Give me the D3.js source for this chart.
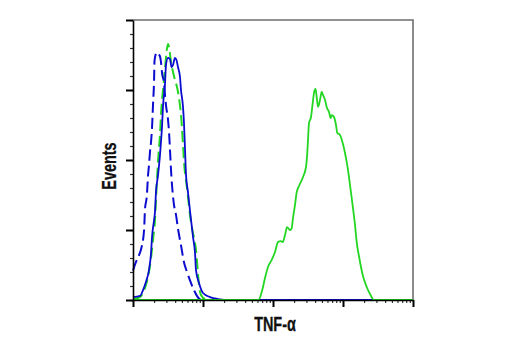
<!DOCTYPE html>
<html>
<head>
<meta charset="utf-8">
<script src="https://cdn.jsdelivr.net/npm/d3@7"></script>
<style>
  html, body { margin: 0; padding: 0; background: #fff; }
  svg { display: block; }
  .label { font-family: "Liberation Sans", Arial, sans-serif; font-weight: bold; font-size: 19.5px; fill: #111; stroke: #111; stroke-width: 0.3px; }
</style>
</head>
<body>
<svg id="chart" width="520" height="350"></svg>
<script>
// Fluorescence intensity (log channel) vs event counts, one array per histogram.
const xLabel = "TNF-α";
const yLabel = "Events";

// Isotype control, untreated (blue dashed)
const isoUntreated = [
  [1, 21], [1.1, 27], [1.22, 32], [1.3, 36], [1.44, 50], [1.48, 64], [1.58, 75],
  [1.64, 89], [1.69, 96], [1.75, 106], [1.81, 113], [1.87, 123], [1.93, 139],
  [2.0, 157], [2.03, 171], [2.13, 176], [2.2, 177], [2.28, 176], [2.43, 174],
  [2.51, 170], [2.6, 162], [2.77, 155], [2.87, 146], [2.96, 139], [3.16, 129],
  [3.27, 120], [3.38, 107], [3.49, 93], [3.61, 82], [3.85, 68], [4.11, 61],
  [4.39, 51], [4.85, 39], [5.35, 27], [5.91, 20], [6.52, 14], [7.44, 7],
  [8.77, 1], [10, 0]
];

// Isotype control, treated (green dashed)
const isoTreated = [
  [1, 0.7], [1.26, 2.1], [1.39, 5], [1.53, 10.7], [1.69, 20], [1.81, 30],
  [1.93, 42.9], [2.06, 57.1], [2.13, 71.4], [2.2, 85.7], [2.31, 103.6],
  [2.43, 117.9], [2.51, 132.1], [2.6, 142.9], [2.73, 153.6], [2.87, 165.7],
  [3.01, 177.1], [3.16, 182.9], [3.32, 178.6], [3.49, 170], [3.73, 162.9],
  [3.98, 157.1], [4.25, 152.1], [4.54, 144.3], [4.77, 135.7], [5.01, 122.9],
  [5.18, 110.7], [5.44, 94.3], [5.72, 85.7], [6.1, 73.6], [6.52, 60.7],
  [6.96, 51.4], [7.44, 44.3], [7.94, 35.7], [8.35, 22.9], [8.77, 10.7],
  [9.36, 3.6], [10.7, 0.7], [13.4, 0]
];

// TNF-α antibody, untreated (blue solid)
const tnfUntreated = [
  [1, 2.1], [1.26, 2.9], [1.39, 7.1], [1.53, 12.9], [1.69, 21.4], [1.81, 33.6],
  [1.87, 45], [2.0, 57.1], [2.06, 62.9], [2.13, 77.1], [2.28, 89.3], [2.43, 103.6],
  [2.51, 112.9], [2.6, 124.3], [2.68, 137.9], [2.87, 155], [2.96, 167.9],
  [3.16, 172.9], [3.38, 172.1], [3.55, 166.4], [3.73, 167.9], [3.98, 172.9],
  [4.18, 171.4], [4.39, 166.4], [4.69, 159.3], [4.85, 150], [5.18, 137.9],
  [5.35, 126.4], [5.54, 107.1], [5.72, 89.3], [6.1, 77.1], [6.52, 63.6],
  [7.2, 45], [7.69, 33.6], [7.94, 21.4], [8.77, 12.1], [10, 5], [12.6, 2.1],
  [16.4, 0.7], [24.3, 0], [10000, 0]
];

// TNF-α antibody, treated (green solid)
const tnfTreated = [
  [1, 0], [62.1, 0], [69, 5.7], [76.9, 15.7], [84.8, 23.6], [95.8, 28.6],
  [106.8, 34.3], [117.9, 41.4], [128.8, 42.1], [137.6, 41.4], [148.4, 46.4],
  [158.5, 52.1], [175, 50], [185, 51.4], [193.1, 58.6], [206.2, 67.9],
  [218.1, 77.1], [235.2, 81.4], [268.3, 87.9], [296, 95], [305.9, 102.1],
  [316.2, 114.3], [326.8, 126.4], [349.1, 130.7], [369.2, 140.7], [385.3, 147.9],
  [404.8, 150.7], [421.1, 145], [439.5, 137.9], [469.4, 142.9], [496.3, 148.6],
  [518, 146.4], [553.3, 142.9], [590.9, 137.1], [631, 134.3], [667.3, 130],
  [689.6, 132.1], [743.6, 130.7], [794.3, 125], [829, 119.3], [906, 117.9],
  [990.1, 112.1], [1068, 105], [1129, 98.6], [1190, 91.4], [1259, 82.1],
  [1331, 72.9], [1484, 53.6], [1569, 41.4], [1710, 30], [1912, 17.9],
  [2181, 9.3], [2431, 4.3], [2774, 0], [10000, 0]
];

const yMajorTicks = [0, 50, 100, 150, 200];

const svg = d3.select("#chart");
const plotLeft = 133, plotRight = 413, plotTop = 20, plotBottom = 300;

const x = d3.scaleLog().domain([1, 10000]).range([plotLeft, plotRight]);
const y = d3.scaleLinear().domain([0, 200]).range([plotBottom, plotTop]);

// Plot frame: grey top and right edges
svg.append("path")
  .attr("d", `M${plotLeft},${plotTop}H${plotRight}V${plotBottom}`)
  .attr("fill", "none")
  .attr("stroke", "#6e6e6e")
  .attr("stroke-width", 1.6);

// Histograms
const line = d3.line()
  .x(d => x(d[0]))
  .y(d => y(d[1]))
  .curve(d3.curveMonotoneX);

const series = [
  { data: isoTreated,   color: "#22d622", dash: "11,5", width: 2 },
  { data: isoUntreated, color: "#0c0cd0", dash: "11,5", width: 2 },
  { data: tnfUntreated, color: "#0c0cd0", dash: null,   width: 1.8 },
  { data: tnfTreated,   color: "#22d622", dash: null,   width: 1.8 }
];

series.forEach(s => {
  svg.append("path")
    .datum(s.data)
    .attr("d", line)
    .attr("fill", "none")
    .attr("stroke", s.color)
    .attr("stroke-width", s.width)
    .attr("stroke-dasharray", s.dash)
    .attr("stroke-linejoin", "round");
});

// Y axis: minor ticks every 10, major every 50
const yMinor = svg.append("g")
  .attr("transform", `translate(${plotLeft},0)`)
  .call(d3.axisLeft(y).tickValues(d3.range(0, 201, 10)).tickSize(3).tickFormat(""));
yMinor.select(".domain").remove();
yMinor.selectAll("line").attr("stroke", "#333").attr("stroke-width", 1.2);

const yMajor = svg.append("g")
  .attr("transform", `translate(${plotLeft},0)`)
  .call(d3.axisLeft(y).tickValues(yMajorTicks).tickSize(7).tickSizeOuter(0).tickFormat(""));
yMajor.select(".domain").attr("stroke", "#000").attr("stroke-width", 1.6);
yMajor.selectAll("line").attr("stroke", "#000").attr("stroke-width", 2);

// X axis: log decades with minor ticks
const xTicks = x.ticks();
const isDecade = v => Math.abs(Math.log10(v) - Math.round(Math.log10(v))) < 1e-9;

const xMinor = svg.append("g")
  .attr("transform", `translate(0,${plotBottom})`)
  .call(d3.axisBottom(x).tickValues(xTicks.filter(v => !isDecade(v))).tickSize(3).tickFormat(""));
xMinor.select(".domain").remove();
xMinor.selectAll("line").attr("stroke", "#333").attr("stroke-width", 1.2);

const xMajor = svg.append("g")
  .attr("transform", `translate(0,${plotBottom})`)
  .call(d3.axisBottom(x).tickValues(xTicks.filter(isDecade)).tickSize(7).tickSizeOuter(0).tickFormat(""));
xMajor.select(".domain").attr("stroke", "#000").attr("stroke-width", 1.6);
xMajor.selectAll("line").attr("stroke", "#000").attr("stroke-width", 2);

// Axis titles, horizontally condensed bold
svg.append("text")
  .attr("class", "label")
  .attr("transform", "translate(275,331) scale(0.74,1)")
  .attr("text-anchor", "middle")
  .text(xLabel);

svg.append("text")
  .attr("class", "label")
  .attr("transform", "translate(116,166) rotate(-90) scale(0.74,1)")
  .attr("text-anchor", "middle")
  .text(yLabel);
</script>
</body>
</html>
